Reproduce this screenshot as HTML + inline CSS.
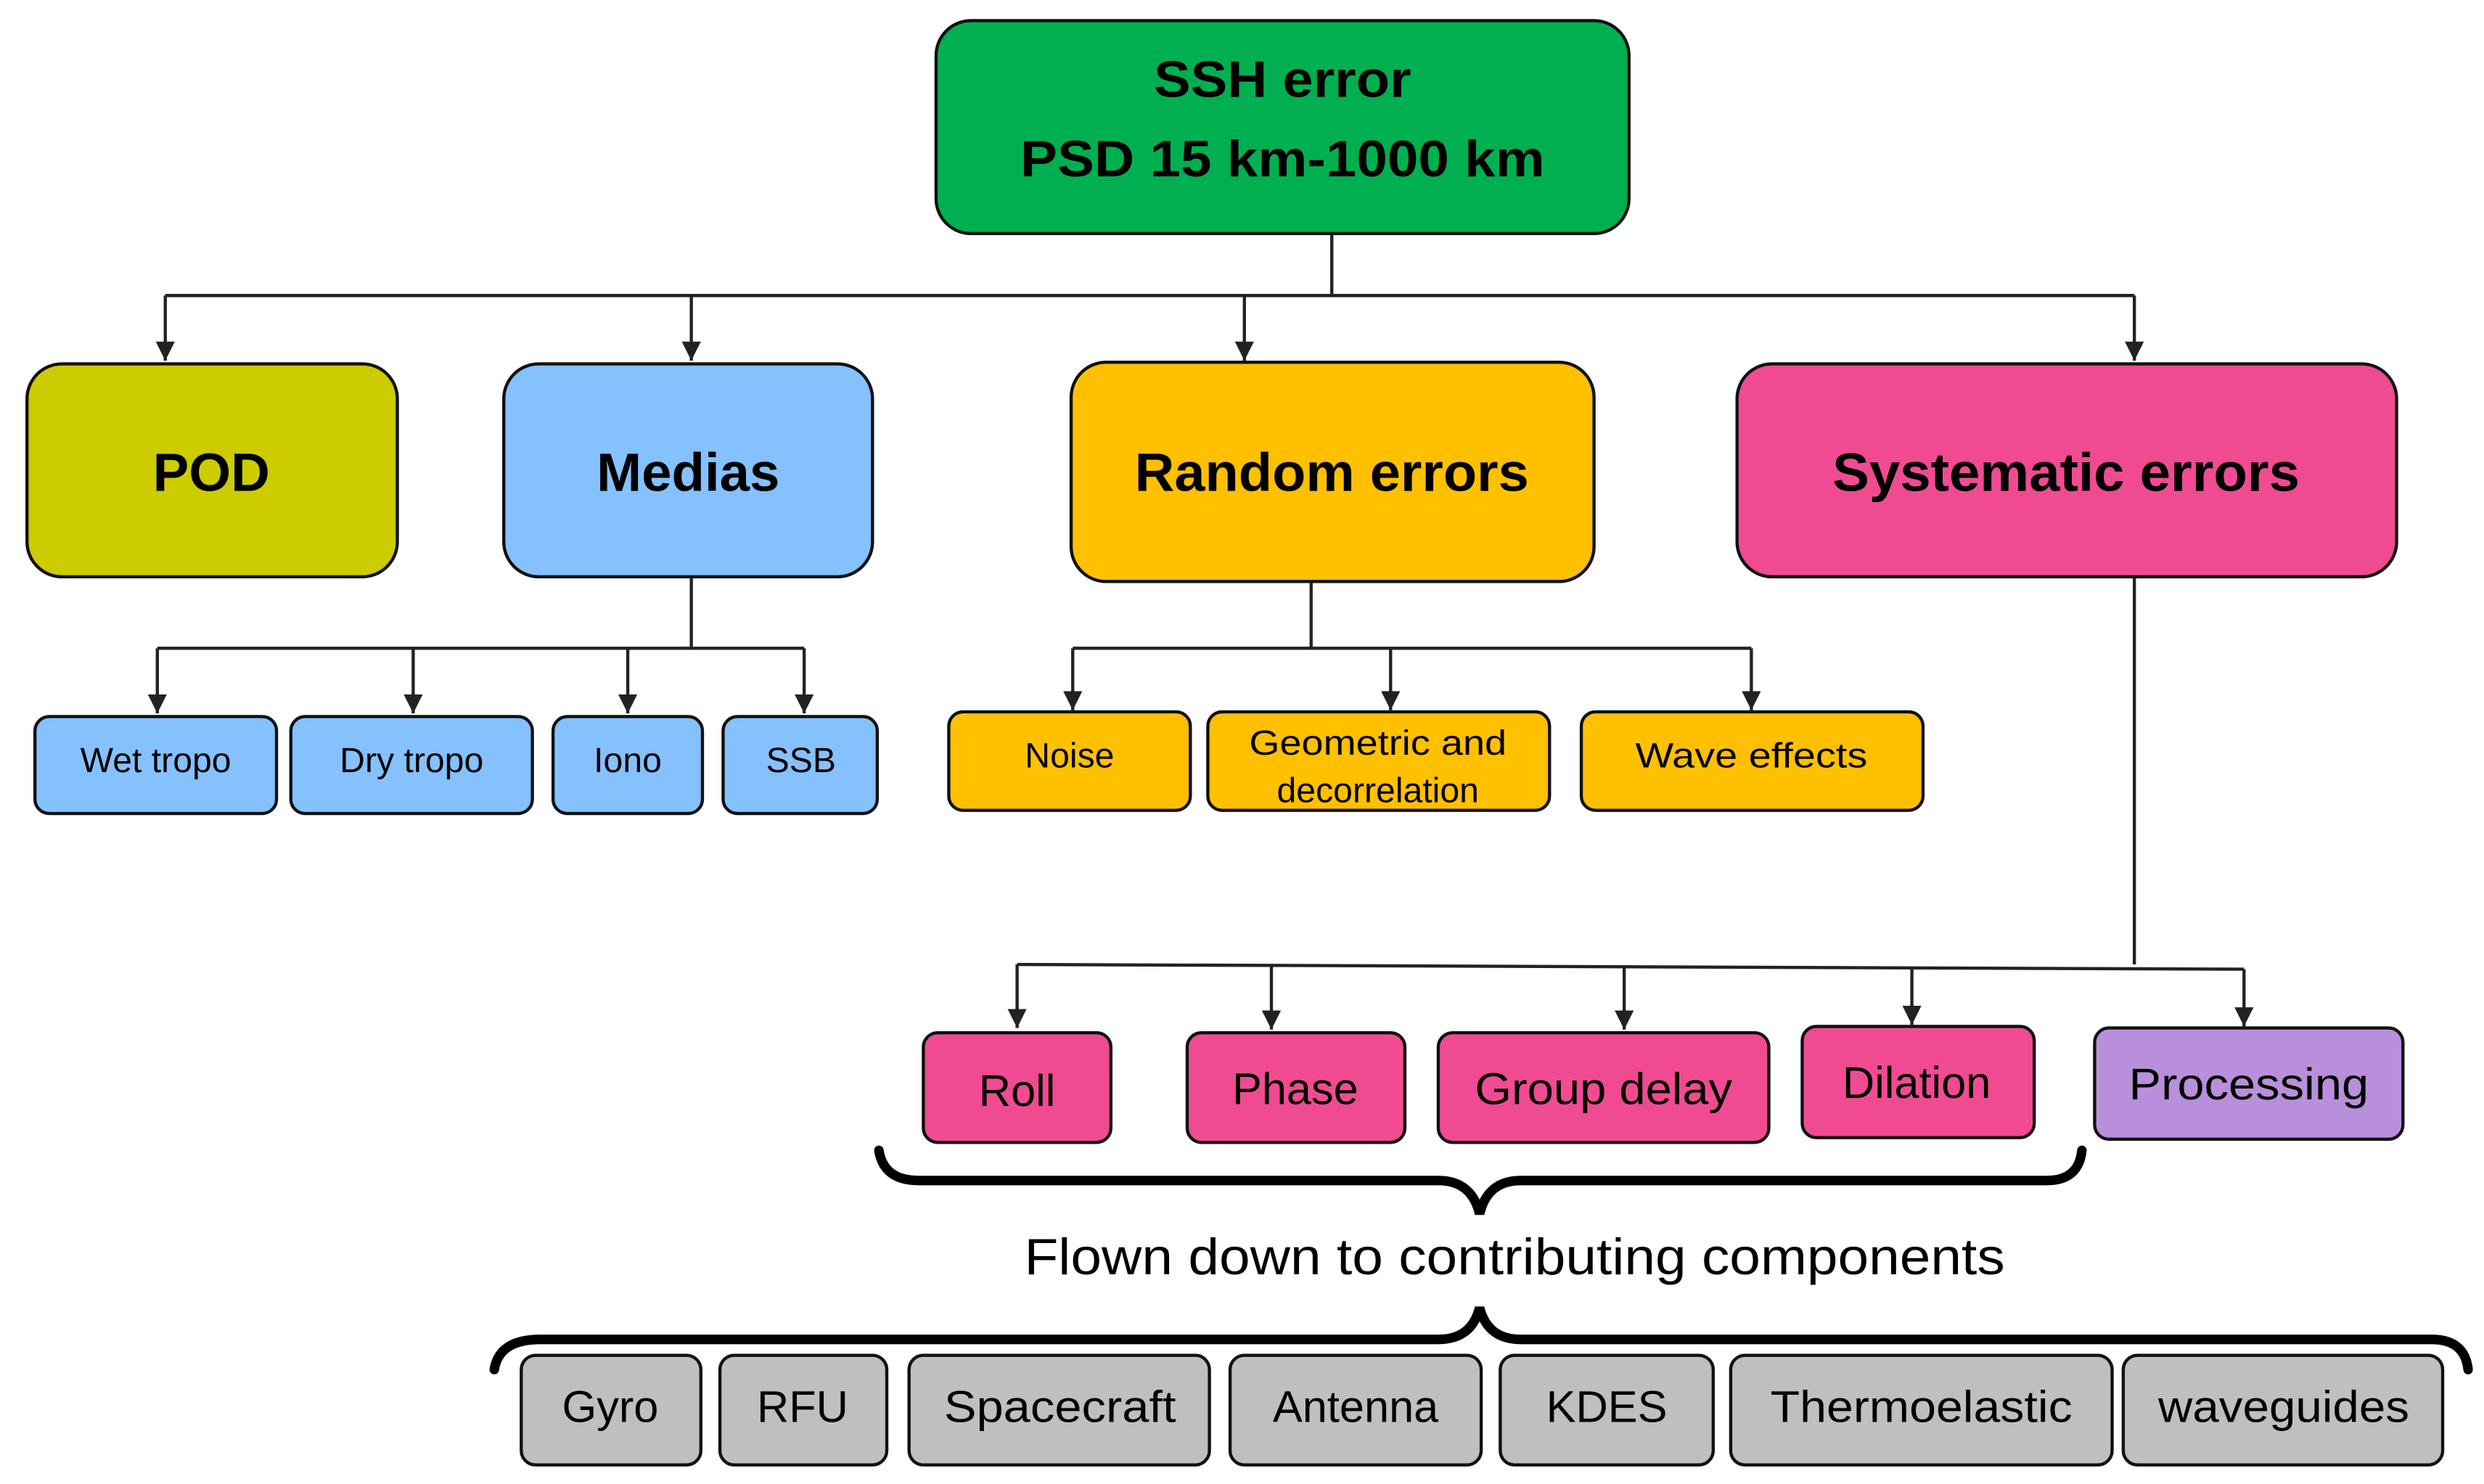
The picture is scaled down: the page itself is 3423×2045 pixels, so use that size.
<!DOCTYPE html>
<html><head><meta charset="utf-8"><style>html,body{margin:0;padding:0;background:#fff}svg{display:block}</style></head>
<body>
<svg width="3423" height="2045" viewBox="0 0 1563 934" preserveAspectRatio="none" xmlns="http://www.w3.org/2000/svg" font-family="Liberation Sans, Arial, sans-serif">
<defs><marker id="a" markerWidth="12" markerHeight="12" refX="10" refY="5" orient="auto" markerUnits="userSpaceOnUse" viewBox="0 0 10 10"><path d="M0,0 L10,5 L0,10 z" fill="#222"/></marker></defs>
<g stroke="#222" stroke-width="2" fill="none">
<path d="M838,147 V186 M104,186 H1343"/>
<path d="M104,186 V227" marker-end="url(#a)"/><path d="M435,186 V227" marker-end="url(#a)"/><path d="M783,186 V227" marker-end="url(#a)"/><path d="M1343,186 V227" marker-end="url(#a)"/>
<path d="M435,363 V408 M99,408 H506"/>
<path d="M99,408 V449" marker-end="url(#a)"/><path d="M260,408 V449" marker-end="url(#a)"/><path d="M395,408 V449" marker-end="url(#a)"/><path d="M506,408 V449" marker-end="url(#a)"/>
<path d="M825,366 V408 M675,408 H1102"/>
<path d="M675,408 V447" marker-end="url(#a)"/><path d="M875,408 V447" marker-end="url(#a)"/><path d="M1102,408 V447" marker-end="url(#a)"/>
<path d="M1343,363 V607 M640,607 L1412,610"/>
<path d="M640,607 V647" marker-end="url(#a)"/><path d="M800,608 V648" marker-end="url(#a)"/><path d="M1022,608 V648" marker-end="url(#a)"/><path d="M1203,609 V645" marker-end="url(#a)"/><path d="M1412,610 V646" marker-end="url(#a)"/>
</g>
<g stroke="#111" stroke-width="2">
<rect x="589" y="13" width="436" height="134" rx="22" fill="#00b050"/>
<rect x="17" y="229" width="233" height="134" rx="22" fill="#cccc00"/>
<rect x="317" y="229" width="232" height="134" rx="22" fill="#85c1ff"/>
<rect x="674" y="228" width="329" height="138" rx="22" fill="#ffc000"/>
<rect x="1093" y="229" width="415" height="134" rx="22" fill="#f04b91"/>
<g fill="#85c1ff"><rect x="22" y="451" width="152" height="61" rx="9"/><rect x="183" y="451" width="152" height="61" rx="9"/><rect x="348" y="451" width="94" height="61" rx="9"/><rect x="455" y="451" width="97" height="61" rx="9"/></g>
<g fill="#ffc000"><rect x="597" y="448" width="152" height="62" rx="9"/><rect x="760" y="448" width="215" height="62" rx="9"/><rect x="995" y="448" width="215" height="62" rx="9"/></g>
<g fill="#f04b91"><rect x="581" y="650" width="118" height="69" rx="9"/><rect x="747" y="650" width="137" height="69" rx="9"/><rect x="905" y="650" width="208" height="69" rx="9"/><rect x="1134" y="646" width="146" height="70" rx="9"/></g>
<rect x="1318" y="647" width="194" height="70" rx="9" fill="#b98fdb"/>
<g fill="#bfbfbf"><rect x="328" y="853" width="113" height="69" rx="9"/><rect x="453" y="853" width="105" height="69" rx="9"/><rect x="572" y="853" width="189" height="69" rx="9"/><rect x="774" y="853" width="158" height="69" rx="9"/><rect x="944" y="853" width="134" height="69" rx="9"/><rect x="1089" y="853" width="240" height="69" rx="9"/><rect x="1336" y="853" width="201" height="69" rx="9"/></g>
</g>
<g fill="none" stroke="#000" stroke-width="6" stroke-linecap="round">
<path d="M553,724 Q556,743 578,743 H905 Q926,743 931,764 Q936,743 957,743 H1288 Q1308,743 1310,724"/>
<path d="M311,862 Q314,843 340,843 H905 Q926,843 931,823 Q936,843 957,843 H1530 Q1551,843 1553,862"/>
</g>
<g text-anchor="middle" fill="#000">
<g font-weight="bold" font-size="32"><text x="807" y="61" textLength="162" lengthAdjust="spacingAndGlyphs">SSH error</text><text x="807" y="111" textLength="330" lengthAdjust="spacingAndGlyphs">PSD 15 km-1000 km</text></g>
<g font-weight="bold" font-size="34"><text x="133" y="309">POD</text><text x="433" y="309">Medias</text><text x="838" y="309" textLength="248" lengthAdjust="spacingAndGlyphs">Random errors</text><text x="1300" y="309" textLength="294" lengthAdjust="spacingAndGlyphs">Systematic errors</text></g>
<g font-size="22"><text x="98" y="486">Wet tropo</text><text x="259" y="486">Dry tropo</text><text x="395" y="486">Iono</text><text x="504" y="486">SSB</text>
<text x="673" y="483">Noise</text><text x="867" y="475" textLength="162" lengthAdjust="spacingAndGlyphs">Geometric and</text><text x="867" y="505">decorrelation</text><text x="1102" y="483" textLength="146" lengthAdjust="spacingAndGlyphs">Wave effects</text></g>
<g font-size="28"><text x="640" y="696">Roll</text><text x="815" y="695">Phase</text><text x="1009" y="695" textLength="162" lengthAdjust="spacingAndGlyphs">Group delay</text><text x="1206" y="691">Dilation</text><text x="1415" y="692" textLength="151" lengthAdjust="spacingAndGlyphs">Processing</text>
<text x="384" y="895">Gyro</text><text x="505" y="895">RFU</text><text x="667" y="895" textLength="146" lengthAdjust="spacingAndGlyphs">Spacecraft</text><text x="853" y="895">Antenna</text><text x="1011" y="895">KDES</text><text x="1209" y="895" textLength="190" lengthAdjust="spacingAndGlyphs">Thermoelastic</text><text x="1437" y="895" textLength="158" lengthAdjust="spacingAndGlyphs">waveguides</text></g>
<text x="953" y="802" font-size="32" textLength="617" lengthAdjust="spacingAndGlyphs">Flown down to contributing components</text>
</g>
</svg>
</body></html>
